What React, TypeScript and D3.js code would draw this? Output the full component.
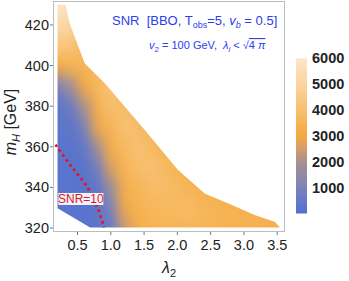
import { useEffect, useRef } from "react";
import * as d3 from "d3";

// grid of SNR values (rows = m_H, columns = lambda_2)
const lambdaValues = [0.2, 0.4, 0.6, 0.8, 1.0, 1.2, 1.4, 1.6, 1.8, 2.0, 2.2, 2.4, 2.6, 2.8, 3.0, 3.2, 3.4, 3.6];
const massValues = [320, 330, 340, 350, 360, 370, 380, 390, 400, 410, 420, 430];
const snrGrid = [
  [200, 200, 200, 250, 500, 2300, 3200, 3400, 3500, 3500, 3600, 3500, 3500, 3400, 3400, 3400, 3300, 3300],
  [200, 200, 200, 300, 1000, 2900, 3400, 3600, 3700, 3800, 3800, 3600, 3500, 3400, 3400, 3300, 3300, 3300],
  [200, 200, 200, 400, 1700, 3200, 3600, 3800, 3900, 3700, 3500, 3400, 3300, 3300, 3300, 3300, 3300, 3300],
  [200, 200, 250, 800, 2600, 3500, 3900, 4100, 3800, 3500, 3400, 3300, 3300, 3300, 3300, 3300, 3300, 3300],
  [200, 200, 400, 1900, 3200, 3700, 4100, 3800, 3500, 3400, 3300, 3300, 3300, 3300, 3300, 3300, 3300, 3300],
  [250, 300, 1000, 2900, 3500, 4100, 3900, 3500, 3400, 3300, 3300, 3300, 3300, 3300, 3300, 3300, 3300, 3300],
  [300, 600, 2000, 3300, 4000, 3900, 3600, 3400, 3300, 3300, 3300, 3300, 3300, 3300, 3300, 3300, 3300, 3300],
  [900, 1800, 3000, 3700, 4100, 3700, 3400, 3300, 3300, 3300, 3300, 3300, 3300, 3300, 3300, 3300, 3300, 3300],
  [3000, 3400, 3500, 3700, 3500, 3400, 3300, 3300, 3300, 3300, 3300, 3300, 3300, 3300, 3300, 3300, 3300, 3300],
  [4300, 4200, 3800, 3500, 3400, 3300, 3300, 3300, 3300, 3300, 3300, 3300, 3300, 3300, 3300, 3300, 3300, 3300],
  [5300, 5000, 4400, 3600, 3400, 3300, 3300, 3300, 3300, 3300, 3300, 3300, 3300, 3300, 3300, 3300, 3300, 3300],
  [5900, 5600, 4800, 3800, 3400, 3300, 3300, 3300, 3300, 3300, 3300, 3300, 3300, 3300, 3300, 3300, 3300, 3300],
];

// allowed region outline
const regionLambda = [0.2, 0.32, 0.39, 0.61, 0.91, 1.51, 2.01, 2.41, 2.82, 3.16, 3.47, 3.54, 0.69, 0.2];
const regionMass = [430, 430, 420, 401, 391.3, 368.3, 348.6, 337, 331.3, 326.4, 323, 320.3, 320.3, 329.7];

// SNR = 10 contour
const contourLambda = [0.17, 0.41, 0.66, 0.8, 0.9];
const contourMass = [361, 350.2, 339.5, 330, 320.3];

const xTicks = [0.5, 1.0, 1.5, 2.0, 2.5, 3.0, 3.5];
const yTicks = [320, 340, 360, 380, 400, 420];
const barTicks = [1000, 2000, 3000, 4000, 5000, 6000];

const colorStops = [0, 1000, 2000, 2600, 3000, 3500, 4500, 6000];
const colorRange = ["#5070d0", "#7c82ba", "#a8918f", "#d9a062", "#f5a843", "#f6b455", "#f9ca88", "#fce7c9"];

const W = 349;
const H = 281;
const FONT = "'Liberation Sans', Arial, sans-serif";

export default function App() {
  const svgRef = useRef<SVGSVGElement>(null);

  useEffect(() => {
    if (!svgRef.current) return;
    d3.select(svgRef.current).selectAll("*").remove();

    const svg = d3.select(svgRef.current).attr("width", W).attr("height", H);

    const left = 53, right = 285, top = 1, bottom = 232;
    const x = d3.scaleLinear().domain([0.132, 3.617]).range([left, right]);
    const y = d3.scaleLinear().domain([318.03, 431.8]).range([bottom, top]);

    const color = d3
      .scaleLinear<string>()
      .domain(colorStops)
      .range(colorRange)
      .interpolate(d3.interpolateRgb)
      .clamp(true);

    const defs = svg.append("defs");

    // blur filter to smooth the grid into a density
    const filter = defs
      .append("filter")
      .attr("id", "smooth")
      .attr("filterUnits", "userSpaceOnUse")
      .attr("x", 0)
      .attr("y", 0)
      .attr("width", W)
      .attr("height", H)
      .attr("color-interpolation-filters", "sRGB");
    filter.append("feGaussianBlur").attr("stdDeviation", "5.5 8");

    const regionPts = regionLambda.map((l, i) => [x(l), y(regionMass[i])] as [number, number]);
    defs
      .append("clipPath")
      .attr("id", "region")
      .append("path")
      .attr("d", "M" + regionPts.map((p) => p.join(",")).join("L") + "Z");

    // density cells
    const dl = 0.1, dm = 5, ext = 30;
    const field = svg.append("g").attr("clip-path", "url(#region)").append("g").attr("filter", "url(#smooth)");
    snrGrid.forEach((row, j) => {
      row.forEach((v, i) => {
        let x0 = x(lambdaValues[i] - dl);
        let x1 = x(lambdaValues[i] + dl);
        let y0 = y(massValues[j] + dm);
        let y1 = y(massValues[j] - dm);
        if (i === 0) x0 -= ext;
        if (i === row.length - 1) x1 += ext;
        if (j === 0) y1 += ext;
        if (j === snrGrid.length - 1) y0 -= ext;
        field
          .append("rect")
          .attr("x", x0)
          .attr("y", y0)
          .attr("width", x1 - x0 + 0.6)
          .attr("height", y1 - y0 + 0.6)
          .attr("fill", color(v));
      });
    });

    // frame
    svg
      .append("rect")
      .attr("x", left + 0.5)
      .attr("y", top + 0.5)
      .attr("width", right - left - 1)
      .attr("height", bottom - top - 1)
      .attr("fill", "none")
      .attr("stroke", "#bdbdbd")
      .attr("stroke-width", 1);

    // ticks
    const tickColor = "#777";
    xTicks.forEach((t) => {
      svg
        .append("line")
        .attr("x1", x(t))
        .attr("x2", x(t))
        .attr("y1", bottom)
        .attr("y2", bottom + 3)
        .attr("stroke", tickColor);
      svg
        .append("text")
        .attr("x", x(t))
        .attr("y", 250)
        .attr("text-anchor", "middle")
        .attr("font-family", FONT)
        .attr("font-size", 14.5)
        .attr("fill", "#222")
        .text(t.toFixed(1));
    });
    yTicks.forEach((t) => {
      svg
        .append("line")
        .attr("x1", left - 3)
        .attr("x2", left)
        .attr("y1", y(t))
        .attr("y2", y(t))
        .attr("stroke", tickColor);
      svg
        .append("text")
        .attr("x", 49)
        .attr("y", y(t) + 5)
        .attr("text-anchor", "end")
        .attr("font-family", FONT)
        .attr("font-size", 14.5)
        .attr("fill", "#222")
        .text(t);
    });

    // SNR=10 contour
    const line = d3
      .line<number>()
      .x((l) => x(l))
      .y((_, i) => y(contourMass[i]))
      .curve(d3.curveCatmullRom);
    svg
      .append("path")
      .attr("d", line(contourLambda))
      .attr("fill", "none")
      .attr("stroke", "#e3151f")
      .attr("stroke-width", 2.8)
      .attr("stroke-dasharray", "2.6 3.4");

    const lx = x(0.55), ly = y(334.3);
    svg
      .append("rect")
      .attr("x", lx - 22.5)
      .attr("y", ly - 6)
      .attr("width", 45)
      .attr("height", 12)
      .attr("fill", "white")
      .attr("fill-opacity", 0.92);
    svg
      .append("text")
      .attr("x", lx)
      .attr("y", ly + 4.3)
      .attr("text-anchor", "middle")
      .attr("font-family", FONT)
      .attr("font-size", 12)
      .attr("fill", "#e3151f")
      .text("SNR=10");

    // annotation
    const blue = "#2a40ee";
    const addParts = (
      t: d3.Selection<SVGTextElement, unknown, null, undefined>,
      parts: { s: string; it?: boolean; sub?: boolean; over?: boolean }[],
      subShift: number,
      subSize: number
    ) => {
      let down = false;
      parts.forEach((p) => {
        const ts = t.append("tspan").text(p.s);
        if (p.it) ts.attr("font-style", "italic");
        if (p.over) ts.attr("text-decoration", "overline");
        if (p.sub && !down) {
          ts.attr("dy", subShift).attr("font-size", subSize);
          down = true;
        } else if (p.sub) {
          ts.attr("font-size", subSize);
        } else if (down) {
          ts.attr("dy", -subShift);
          down = false;
        }
      });
    };

    const t1 = svg
      .append("text")
      .attr("x", 112)
      .attr("y", 25)
      .attr("font-family", FONT)
      .attr("font-size", 13)
      .attr("fill", blue)
      .style("white-space", "pre");
    addParts(
      t1,
      [
        { s: "SNR  [BBO, T" },
        { s: "obs", sub: true },
        { s: "=5, " },
        { s: "v", it: true },
        { s: "b", it: true, sub: true },
        { s: " = 0.5]" },
      ],
      3,
      9
    );

    const t2 = svg
      .append("text")
      .attr("x", 149)
      .attr("y", 49)
      .attr("font-family", FONT)
      .attr("font-size", 11)
      .attr("fill", blue)
      .style("white-space", "pre");
    addParts(
      t2,
      [
        { s: "v", it: true },
        { s: "2", sub: true },
        { s: " = 100 GeV,  " },
        { s: "\u03bb", it: true },
        { s: "i", it: true, sub: true },
        { s: " < \u221a" },
        { s: "4 ", over: true },
        { s: "\u03c0", it: true, over: true },
      ],
      2.5,
      8
    );

    // axis labels
    const yl = svg
      .append("text")
      .attr("transform", "translate(16,122) rotate(-90)")
      .attr("text-anchor", "middle")
      .attr("font-family", FONT)
      .attr("font-size", 16)
      .attr("fill", "#222")
      .style("white-space", "pre");
    addParts(yl, [{ s: "m", it: true }, { s: "H", it: true, sub: true }, { s: " [GeV]" }], 3.5, 11);

    const xl = svg
      .append("text")
      .attr("x", 169)
      .attr("y", 273)
      .attr("text-anchor", "middle")
      .attr("font-family", FONT)
      .attr("font-size", 16)
      .attr("fill", "#222");
    addParts(xl, [{ s: "\u03bb", it: true }, { s: "2", sub: true }], 3.5, 11);

    // colour bar
    const barY = d3.scaleLinear().domain([0, 6000]).range([213.5, 58.3]);
    const grad = defs
      .append("linearGradient")
      .attr("id", "bar")
      .attr("x1", 0)
      .attr("x2", 0)
      .attr("y1", 1)
      .attr("y2", 0);
    d3.range(0, 6001, 250).forEach((v) => {
      grad
        .append("stop")
        .attr("offset", v / 6000)
        .attr("stop-color", color(v));
    });
    svg
      .append("rect")
      .attr("x", 296)
      .attr("y", barY(6000))
      .attr("width", 11)
      .attr("height", barY(0) - barY(6000))
      .attr("fill", "url(#bar)");
    barTicks.forEach((t) => {
      svg
        .append("text")
        .attr("x", 312)
        .attr("y", barY(t) + 5)
        .attr("font-family", FONT)
        .attr("font-size", 14.5)
        .attr("font-weight", "bold")
        .attr("fill", "#222")
        .text(t);
    });
  }, []);

  return (
    <div style={{ position: "absolute", left: 0, top: 0 }}>
      <svg ref={svgRef} style={{ display: "block" }}></svg>
    </div>
  );
}
